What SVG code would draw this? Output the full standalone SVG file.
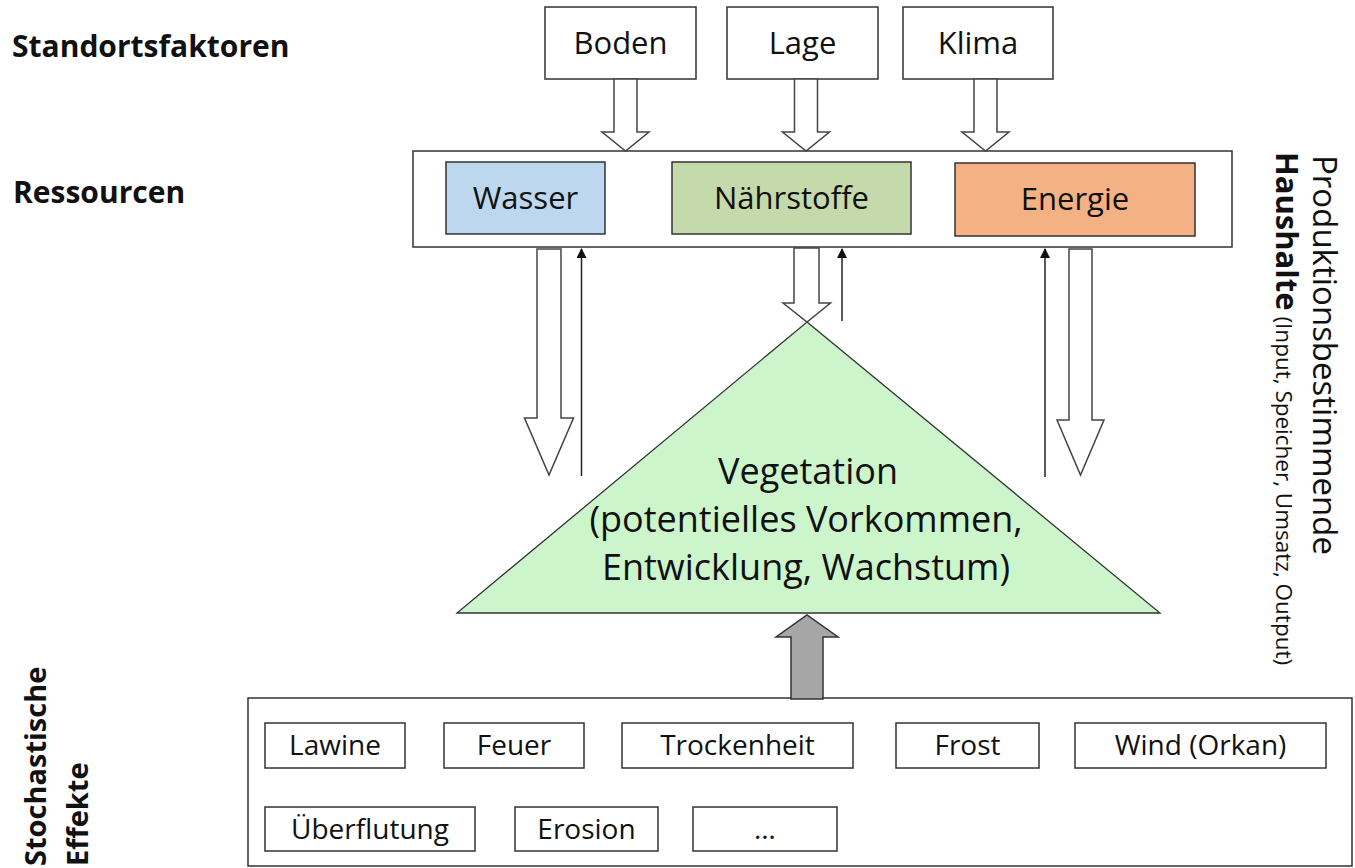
<svg xmlns="http://www.w3.org/2000/svg" width="1355" height="868" viewBox="0 0 1355 868">
<style>
text{font-family:"Open Sans","Liberation Sans",sans-serif;fill:#111}
.lbl{font-size:30px;font-weight:bold}
.box{fill:#fff;stroke:#333;stroke-width:1.5}
.t31{font-size:31px;text-anchor:middle}
.t28{font-size:28px;text-anchor:middle}
.hol{fill:#fff;stroke:#444;stroke-width:1.5;stroke-linejoin:miter}
.thin{stroke:#222;stroke-width:1.5;fill:none;marker-end:url(#ah)}
</style>
<defs>
<marker id="ah" viewBox="0 0 10 10" refX="9" refY="5" markerWidth="10" markerHeight="10" markerUnits="userSpaceOnUse" orient="auto">
<path d="M0,0 L10,5 L0,10 Z" fill="#111"/>
</marker>
</defs>
<rect width="1355" height="868" fill="#fff"/>

<g id="labels">
<text class="lbl" x="12" y="57">Standortsfaktoren</text>
<text class="lbl" x="13" y="203">Ressourcen</text>
<text class="lbl" transform="translate(46,866) rotate(-90)" style="font-size:29px">Stochastische</text>
<text class="lbl" transform="translate(88,866) rotate(-90)" style="font-size:29px">Effekte</text>
<text transform="translate(1313,155) rotate(90)" style="font-size:33px">Produktionsbestimmende</text>
<text transform="translate(1276,152) rotate(90)"><tspan style="font-size:31px;font-weight:bold">Haushalte</tspan><tspan style="font-size:22.5px"> (Input, Speicher, Umsatz, Output)</tspan></text>
</g>

<g id="boden"><rect class="box" x="545" y="7" width="151" height="72"/><text class="t31" x="620.5" y="54">Boden</text></g>
<g id="lage"><rect class="box" x="727" y="7" width="151" height="72"/><text class="t31" x="802.5" y="54">Lage</text></g>
<g id="klima"><rect class="box" x="903" y="7" width="150" height="72"/><text class="t31" x="978" y="54">Klima</text></g>

<g id="ressourcen">
<rect class="box" x="413" y="151" width="819" height="96"/>
</g>
<g id="wasser"><rect x="446" y="162" width="159" height="72" fill="#BDD7EE" stroke="#333" stroke-width="1.5"/><text class="t31" x="525.5" y="209">Wasser</text></g>
<g id="naehrstoffe"><rect x="672" y="162" width="239" height="72" fill="#C5DAAA" stroke="#333" stroke-width="1.5"/><text class="t31" x="791.5" y="209">Nährstoffe</text></g>
<g id="energie"><rect x="955" y="163" width="240" height="73" fill="#F4B183" stroke="#333" stroke-width="1.5"/><text class="t31" x="1075" y="210">Energie</text></g>

<g id="vegetation">
<polygon points="807,322 1160,613 457,613" fill="#CCF5CC" stroke="#333" stroke-width="1.3"/>
<text x="808" y="484" style="font-size:36px;text-anchor:middle">Vegetation</text>
<text x="806" y="532" style="font-size:36px;text-anchor:middle">(potentielles Vorkommen,</text>
<text x="806" y="580" style="font-size:36px;text-anchor:middle">Entwicklung, Wachstum)</text>
</g>

<g id="stochastik">
<rect class="box" x="248" y="698" width="1104" height="168"/>
</g>
<g id="lawine"><rect class="box" x="265" y="723" width="140" height="45"/><text class="t28" x="335" y="755">Lawine</text></g>
<g id="feuer"><rect class="box" x="444" y="723" width="140" height="45"/><text class="t28" x="514" y="755">Feuer</text></g>
<g id="trockenheit"><rect class="box" x="622" y="723" width="231" height="45"/><text class="t28" x="737.5" y="755">Trockenheit</text></g>
<g id="frost"><rect class="box" x="896" y="723" width="143" height="45"/><text class="t28" x="967.5" y="755">Frost</text></g>
<g id="wind"><rect class="box" x="1075" y="723" width="251" height="45"/><text class="t28" x="1200.5" y="755">Wind (Orkan)</text></g>
<g id="ueberflutung"><rect class="box" x="265" y="807" width="210" height="44"/><text class="t28" x="370" y="839">Überflutung</text></g>
<g id="erosion"><rect class="box" x="515" y="807" width="143" height="44"/><text class="t28" x="586.5" y="839">Erosion</text></g>
<g id="etc"><rect class="box" x="693" y="807" width="144" height="44"/><text class="t28" x="765" y="839">…</text></g>

<g id="connectors">
<path class="hol" d="M614,79 L637,79 L637,132 L649,132 L625.5,151 L602,132 L614,132 Z"/>
<path class="hol" d="M794.5,79 L817.5,79 L817.5,132 L829.5,132 L806,151 L782.5,132 L794.5,132 Z"/>
<path class="hol" d="M974,79 L997,79 L997,132 L1009,132 L985.5,151 L962,132 L974,132 Z"/>
<path class="hol" d="M537,249 L561,249 L561,418 L573.5,418 L549,475 L524.5,418 L537,418 Z"/>
<path class="hol" d="M794,248 L819,248 L819,303 L830.5,303 L807,322 L783,303 L794,303 Z"/>
<path class="hol" d="M1069,249 L1092,249 L1092,420 L1104,420 L1080.5,475 L1057,420 L1069,420 Z"/>
<line class="thin" x1="581.5" y1="476" x2="581.5" y2="249"/>
<line class="thin" x1="842" y1="321" x2="842" y2="249"/>
<line class="thin" x1="1045" y1="477" x2="1045" y2="249"/>
<path d="M791,699 L791,637 L776,637 L807,615 L838,637 L823,637 L823,699 Z" fill="#A6A6A6" stroke="#333" stroke-width="1.5"/>
</g>
</svg>
